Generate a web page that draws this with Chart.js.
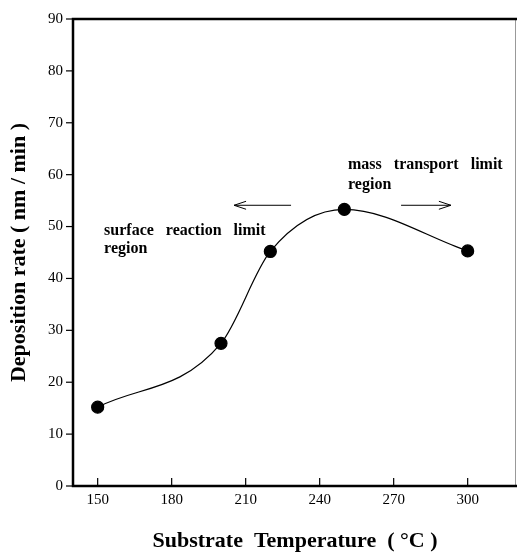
<!DOCTYPE html>
<html>
  <head>
    <meta charset="UTF-8">
    <title>Deposition rate vs substrate temperature</title>
    <style>
      html, body { margin: 0; padding: 0; background: #fff; }
      .canvas { width: 517px; height: 559px; position: relative; }
    </style>
  </head>
  <body>
    <div class="canvas">
      <canvas id="canvas"></canvas>
    </div>
    <script src="https://cdn.jsdelivr.net/npm/chart.js@4.4.1/dist/chart.umd.min.js"></script>
    <script>
    // values
    var temperatures = [150, 200, 220, 250, 300];
    var rates = [15.2, 27.5, 45.2, 53.3, 45.3];
    var xTicks = [150, 180, 210, 240, 270, 300];
    var yTicks = [0, 10, 20, 30, 40, 50, 60, 70, 80, 90];

    // notes and arrows, in data units
    var notes = [
        { text: 'surface reaction limit', x: 152.6, y: 49.1 },
        { text: 'region', x: 152.6, y: 45.7 },
        { text: 'mass transport limit', x: 251.5, y: 61.9 },
        { text: 'region', x: 251.5, y: 58.1 }
    ];
    var arrows = [
        { from: 228.4, to: 205.3, y: 54.1 },
        { from: 273.0, to: 293.2, y: 54.1 }
    ];

    var serif = '"Liberation Serif", "DejaVu Serif", serif';

    var framePlugin = {
        id: 'frame',
        afterDraw: function(chart) {
            var ctx = chart.ctx;
            var a = chart.chartArea;
            var xs = chart.scales.x, ys = chart.scales.y;
            ctx.save();
            // right border, thin and grey
            ctx.strokeStyle = '#999';
            ctx.lineWidth = 1;
            ctx.beginPath();
            ctx.moveTo(a.right - 1.5, a.top);
            ctx.lineTo(a.right - 1.5, a.bottom);
            ctx.stroke();
            // left, top, bottom heavy lines
            ctx.strokeStyle = '#000';
            ctx.lineWidth = 2.5;
            ctx.beginPath();
            ctx.moveTo(a.right, a.top);
            ctx.lineTo(a.left, a.top);
            ctx.lineTo(a.left, a.bottom);
            ctx.lineTo(a.right, a.bottom);
            ctx.stroke();
            // x ticks point inward
            ctx.lineWidth = 1.2;
            xTicks.forEach(function(v) {
                var px = xs.getPixelForValue(v);
                ctx.beginPath();
                ctx.moveTo(px, a.bottom);
                ctx.lineTo(px, a.bottom - 8);
                ctx.stroke();
            });
            // y ticks point outward
            yTicks.forEach(function(v) {
                var py = ys.getPixelForValue(v);
                ctx.beginPath();
                ctx.moveTo(a.left, py);
                ctx.lineTo(a.left - 7, py);
                ctx.stroke();
            });
            // notes
            ctx.fillStyle = '#000';
            ctx.font = 'bold 16px ' + serif;
            ctx.wordSpacing = '8px';
            ctx.textAlign = 'left';
            ctx.textBaseline = 'middle';
            notes.forEach(function(n) {
                ctx.fillText(n.text, xs.getPixelForValue(n.x), ys.getPixelForValue(n.y));
            });
            // open arrows
            ctx.lineWidth = 1;
            arrows.forEach(function(ar) {
                var x0 = xs.getPixelForValue(ar.from);
                var x1 = xs.getPixelForValue(ar.to);
                var py = ys.getPixelForValue(ar.y);
                var dir = x1 > x0 ? 1 : -1;
                ctx.beginPath();
                ctx.moveTo(x0, py);
                ctx.lineTo(x1, py);
                ctx.moveTo(x1 - dir * 12, py - 4);
                ctx.lineTo(x1, py);
                ctx.lineTo(x1 - dir * 12, py + 4);
                ctx.stroke();
            });
            ctx.restore();
        }
    };

    var ctx = document.getElementById('canvas').getContext('2d');
    var chart = new Chart(ctx, {
        type: 'line',
        data: {
            datasets: [{
                data: temperatures.map(function(t, i) { return { x: t, y: rates[i] }; }),
                borderColor: '#000',
                backgroundColor: '#000',
                borderWidth: 1.2,
                pointRadius: 6,
                pointHoverRadius: 6,
                cubicInterpolationMode: 'monotone',
                fill: false
            }]
        },
        options: {
            responsive: true,
            maintainAspectRatio: false,
            animation: false,
            events: [],
            layout: { autoPadding: false, padding: { top: 12, right: 0, left: 0, bottom: 0 } },
            plugins: {
                legend: { display: false },
                tooltip: { enabled: false }
            },
            scales: {
                x: {
                    type: 'linear',
                    min: 140,
                    max: 320,
                    afterBuildTicks: function(scale) {
                        scale.ticks = xTicks.map(function(v) { return { value: v }; });
                    },
                    afterFit: function(scale) {
                        scale.height = 73;
                        scale.paddingLeft = 0;
                        scale.paddingRight = 0;
                    },
                    grid: { display: false, drawTicks: false },
                    border: { display: false },
                    ticks: {
                        color: '#000',
                        padding: 5,
                        maxRotation: 0,
                        font: { family: serif, size: 15 }
                    },
                    title: {
                        display: true,
                        text: 'Substrate  Temperature  ( \u00B0C )',
                        color: '#000',
                        padding: { top: 20 },
                        font: { family: serif, size: 22, weight: 'bold' }
                    }
                },
                y: {
                    type: 'linear',
                    min: 0,
                    max: 90,
                    afterBuildTicks: function(scale) {
                        scale.ticks = yTicks.map(function(v) { return { value: v }; });
                    },
                    afterFit: function(scale) { scale.width = 73; },
                    grid: { display: false, drawTicks: false },
                    border: { display: false },
                    ticks: {
                        color: '#000',
                        padding: 10,
                        font: { family: serif, size: 15 }
                    },
                    title: {
                        display: true,
                        text: 'Deposition rate ( nm / min )',
                        color: '#000',
                        padding: { top: 6, bottom: 6 },
                        font: { family: serif, size: 22, weight: 'bold' }
                    }
                }
            }
        },
        plugins: [framePlugin]
    });
    </script>
  </body>
</html>
